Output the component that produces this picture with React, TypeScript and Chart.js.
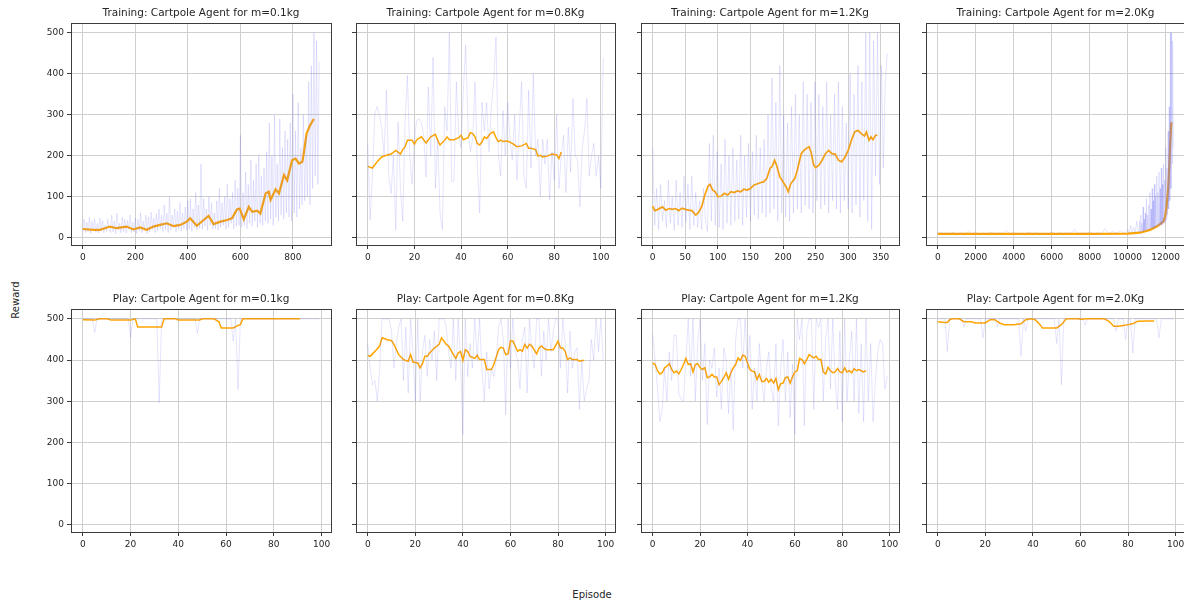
import { useEffect, useRef } from "react";
import { Chart, registerables } from "chart.js";

Chart.register(...registerables);

type Pt = [number, number];

const FONT = "DejaVu Sans";

// ---------- Training, m=0.1kg (raw reward sampled every 5 episodes) ----------
const train01RawStep = 5;
const train01Raw = [
  15, 45, 12, 38, 14, 50, 10, 40, 18, 45, 13, 35, 11, 48, 16, 42, 12, 30, 15, 45, 20,
  12, 55, 14, 40, 10, 60, 18, 35, 12, 50, 15, 45, 11, 42, 20, 55, 12, 38, 14, 48,
  10, 45, 16, 60, 12, 40, 18, 55, 10, 50, 14, 62, 20, 48, 12, 58, 16, 70, 22, 55,
  15, 80, 20, 60, 12, 100, 18, 55, 25, 70, 14, 65, 20, 85, 16, 60, 22, 75, 18, 90,
  20, 95, 15, 70, 25, 110, 18, 80, 22, 180, 20, 95, 28, 70, 18, 100, 30, 85, 20, 60,
  22, 90, 18, 120, 25, 85, 30, 100, 20, 130, 25, 95, 35, 110, 22, 140, 28, 120, 30, 250,
  25, 110, 30, 160, 22, 130, 35, 190, 28, 140, 40, 180, 25, 200, 35, 150, 30, 170, 40, 210,
  35, 280, 45, 200, 30, 300, 50, 180, 40, 290, 55, 220, 45, 260, 60, 240, 50, 280, 40, 350,
  60, 260, 50, 330, 70, 220, 80, 300, 90, 250, 100, 380, 80, 420, 120, 500, 150, 480, 130, 430,
];
const train01Avg: Pt[] = [
  [0, 21], [40, 19], [65, 19], [103, 27], [129, 23], [167, 27], [192, 20], [218, 25],
  [243, 19], [269, 27], [294, 31], [320, 35], [345, 28], [371, 31], [396, 39], [409, 47],
  [434, 29], [460, 43], [479, 53], [498, 33], [524, 39], [549, 43], [568, 47], [587, 69],
  [597, 71], [613, 45], [632, 75], [645, 63], [664, 66], [676, 59], [696, 108], [708, 112],
  [715, 92], [734, 118], [747, 108], [766, 153], [778, 140], [797, 189], [810, 193],
  [823, 181], [836, 185], [842, 209], [852, 254], [865, 274], [880, 290],
];
const train01XTicks = [0, 200, 400, 600, 800];

// ---------- Training, m=0.8Kg (one value per episode) ----------
const train08Raw = [
  230, 43, 150, 300, 320, 300, 270, 200, 360, 150,
  108, 200, 19, 282, 120, 40, 280, 396, 200, 130,
  240, 286, 290, 280, 250, 148, 368, 200, 440, 120,
  240, 60, 20, 320, 260, 500, 136, 140, 380, 250,
  220, 360, 470, 270, 210, 240, 380, 180, 60, 330,
  260, 330, 210, 320, 380, 490, 200, 150, 310, 200,
  330, 240, 190, 300, 140, 270, 380, 150, 120, 360,
  170, 400, 200, 240, 100, 240, 180, 240, 92, 210,
  140, 300, 120, 200, 250, 110, 270, 160, 340, 200,
  190, 75, 220, 260, 340, 150, 200, 230, 150, 200,
  120, 440,
];
const train08Avg: Pt[] = [
  [0, 174], [2, 170], [4, 185], [6, 197], [8, 201], [10, 204], [12, 213], [14, 204],
  [15, 215], [16, 222], [17, 238], [19, 238], [20, 228], [21, 239], [23, 246], [25, 231],
  [27, 246], [29, 252], [30, 238], [31, 226], [33, 238], [34, 246], [35, 239], [37, 239],
  [39, 244], [40, 250], [41, 239], [43, 244], [44, 256], [45, 254], [46, 246], [47, 230],
  [48, 226], [49, 234], [50, 246], [51, 242], [52, 250], [53, 256], [54, 258], [55, 244],
  [56, 234], [57, 238], [58, 235], [60, 236], [62, 230], [64, 222], [66, 224], [68, 230],
  [69, 218], [70, 218], [72, 215], [73, 199], [74, 201], [75, 197], [77, 199], [79, 204],
  [81, 202], [82, 193], [83, 209],
];
const train08XTicks = [0, 20, 40, 60, 80, 100];

// ---------- Training, m=1.2Kg (raw reward sampled every 3 episodes) ----------
const train12RawStep = 3;
const train12Raw = [
  220, 30, 120, 20, 130, 40, 90, 25, 140, 35, 100, 18, 140, 30, 110, 25, 150, 40, 130, 20, 150,
  30, 110, 25, 90, 20, 120, 40, 15, 230, 40, 250, 30, 210, 25, 180, 20, 240, 35, 200, 30,
  220, 40, 190, 45, 250, 30, 200, 50, 230, 40, 210, 55, 250, 45, 220, 60, 240, 50, 300, 60,
  390, 70, 330, 40, 420, 60, 300, 50, 280, 40, 320, 60, 350, 70, 300, 60, 380, 80, 350, 70,
  330, 60, 380, 90, 350, 70, 320, 80, 380, 60, 300, 90, 350, 70, 380, 60, 320, 90, 280, 70,
  400, 60, 350, 80, 420, 50, 380, 90, 500, 40, 500, 20, 480, 150, 500, 130, 420, 170, 380, 450,
];
const train12Avg: Pt[] = [
  [0, 77], [3, 66], [8, 69], [15, 75], [20, 67], [25, 71], [30, 69], [35, 71], [40, 66],
  [45, 72], [50, 69], [55, 67], [60, 66], [66, 55], [70, 61], [75, 75], [80, 104], [85, 126],
  [88, 130], [92, 116], [96, 112], [100, 100], [105, 101], [110, 108], [115, 104], [120, 112],
  [125, 110], [130, 114], [135, 112], [140, 118], [145, 116], [150, 120], [155, 128],
  [160, 131], [165, 134], [170, 136], [175, 144], [180, 169], [183, 173], [187, 189],
  [190, 177], [195, 149], [200, 136], [205, 123], [208, 112], [212, 132], [218, 144],
  [222, 165], [228, 205], [232, 213], [236, 218], [240, 222], [243, 209], [247, 177],
  [250, 171], [255, 177], [260, 189], [265, 205], [270, 213], [275, 205], [280, 204],
  [285, 189], [290, 185], [295, 196], [300, 213], [305, 238], [310, 258], [315, 262],
  [320, 254], [325, 248], [328, 258], [332, 238], [335, 246], [338, 239], [342, 250], [345, 250],
];
const train12XTicks = [0, 50, 100, 150, 200, 250, 300, 350];

// ---------- Training, m=2.0Kg (raw reward at sampled episodes) ----------
const train20Raw: Pt[] = [
  [0, 9], [150, 14], [300, 9], [450, 12], [600, 9], [800, 13], [1000, 9], [1200, 11],
  [1400, 9], [1600, 15], [1800, 9], [2000, 12], [2200, 9], [2400, 11], [2600, 9], [2800, 13],
  [3000, 9], [3200, 12], [3400, 9], [3600, 18], [3800, 9], [4000, 12], [4200, 9], [4400, 11],
  [4600, 9], [4800, 13], [5000, 9], [5200, 12], [5400, 9], [5600, 11], [5800, 9], [6000, 14],
  [6200, 9], [6400, 12], [6600, 9], [6800, 13], [7000, 9], [7200, 20], [7400, 9], [7600, 12],
  [7800, 9], [8000, 14], [8200, 9], [8400, 12], [8600, 9], [8800, 22], [9000, 10], [9200, 15],
  [9400, 10], [9600, 18], [9800, 10], [10000, 20], [10080, 11], [10160, 30], [10240, 12],
  [10320, 25], [10400, 12], [10480, 40], [10560, 14],
  [10600, 14], [10630, 40], [10660, 13], [10690, 55], [10720, 15], [10750, 35], [10780, 16],
  [10810, 75], [10840, 15], [10870, 45], [10900, 18], [10930, 60], [10960, 17], [10990, 95],
  [11020, 20], [11050, 55], [11080, 18], [11110, 80], [11140, 22], [11170, 110], [11200, 20],
  [11230, 70], [11260, 24], [11290, 120], [11320, 22], [11350, 90], [11380, 25], [11410, 130],
  [11440, 24], [11470, 100], [11500, 28], [11530, 150], [11560, 26], [11590, 110], [11620, 30],
  [11650, 160], [11680, 28], [11710, 120], [11740, 32], [11770, 170], [11800, 30], [11830, 130],
  [11860, 35], [11890, 180], [11920, 35], [11950, 140], [11980, 40], [12010, 220], [12040, 45],
  [12070, 170], [12100, 55], [12130, 260], [12160, 70], [12190, 320], [12220, 90], [12250, 500],
  [12280, 120], [12310, 500], [12340, 180], [12370, 480], [12400, 220],
];
const train20Avg: Pt[] = [
  [0, 9], [2000, 9], [4000, 9], [6000, 9], [8000, 9], [10000, 10], [10650, 12], [11180, 19],
  [11530, 27], [11700, 33], [11880, 39], [11970, 51], [12050, 75], [12140, 124], [12200, 181],
  [12240, 230], [12300, 282],
];
const train20XTicks = [0, 2000, 4000, 6000, 8000, 10000, 12000];

// ---------- Play, m=0.1kg ----------
const play01Raw = [
  500, 500, 500, 500, 500, 467, 500, 500, 500, 500,
  500, 500, 500, 500, 500, 500, 500, 500, 500, 500,
  454, 500, 500, 500, 500, 500, 500, 500, 500, 500,
  500, 500, 296, 500, 500, 500, 500, 500, 500, 500,
  500, 500, 500, 500, 500, 500, 500, 500, 465, 500,
  500, 500, 500, 500, 500, 500, 500, 500, 500, 500,
  500, 500, 500, 446, 500, 328, 500, 500, 500, 500,
  500, 500, 500, 500, 500, 500, 500, 500, 500, 500,
  500, 500, 500, 500, 500, 500, 500, 500, 500, 500,
  500, 500, 500, 500, 500, 500, 500, 500, 500, 500,
];
const play01Avg: Pt[] = [
  [0, 498], [5, 497], [7, 500], [10, 500], [12, 497], [20, 497], [22, 500], [23, 480],
  [33, 480], [34, 500], [39, 500], [40, 497], [49, 497], [50, 500], [55, 500], [57, 493],
  [58, 478], [63, 478], [65, 484], [66, 486], [67, 500], [91, 500],
];

// ---------- Play, m=0.8Kg ----------
const play08Raw = [
  440, 380, 340, 350, 300, 380, 500, 500, 500, 500,
  470, 380, 438, 480, 500, 350, 480, 320, 500, 420,
  300, 500, 300, 420, 460, 360, 450, 400, 470, 350,
  500, 500, 500, 480, 420, 380, 500, 350, 500, 400,
  219, 500, 360, 440, 380, 500, 400, 500, 380, 300,
  420, 330, 380, 360, 400, 480, 500, 450, 267, 500,
  380, 500, 420, 400, 330, 450, 480, 320, 500, 420,
  380, 500, 500, 360, 470, 400, 500, 420, 470, 500,
  500, 380, 500, 440, 320, 470, 380, 420, 430, 280,
  400, 300, 330, 350, 450, 400, 500, 420, 500, 400,
];
const play08Avg: Pt[] = [
  [0, 411], [1, 409], [3, 421], [5, 434], [6, 454], [8, 450], [10, 447], [11, 438],
  [13, 413], [15, 401], [17, 397], [18, 413], [19, 395], [21, 393], [22, 381], [23, 391],
  [24, 409], [25, 409], [26, 417], [28, 429], [30, 438], [31, 454], [33, 438], [34, 434],
  [36, 413], [37, 404], [38, 417], [39, 421], [40, 399], [41, 425], [42, 421], [43, 409],
  [45, 404], [46, 412], [47, 401], [49, 401], [50, 377], [52, 377], [53, 389], [55, 425],
  [56, 431], [57, 429], [58, 413], [59, 415], [60, 446], [61, 446], [62, 434], [63, 421],
  [64, 425], [65, 421], [66, 438], [67, 429], [68, 438], [69, 434], [71, 415], [72, 429],
  [73, 434], [74, 429], [75, 425], [76, 425], [78, 425], [80, 446], [81, 429], [82, 429],
  [83, 421], [84, 401], [85, 405], [86, 401], [88, 401], [89, 397], [90, 399], [91, 399],
];

// ---------- Play, m=1.2Kg ----------
const play12Raw = [
  462, 400, 330, 251, 280, 380, 300, 420, 350, 460,
  460, 320, 304, 300, 400, 500, 360, 500, 300, 440,
  500, 350, 440, 243, 400, 380, 430, 310, 380, 280,
  430, 400, 270, 380, 230, 450, 500, 500, 380, 500,
  380, 460, 280, 380, 300, 440, 350, 300, 380, 420,
  330, 300, 440, 240, 380, 450, 300, 420, 260, 390,
  219, 500, 450, 500, 240, 470, 500, 500, 280, 500,
  480, 500, 300, 450, 500, 330, 500, 350, 280, 470,
  250, 500, 300, 400, 470, 300, 500, 270, 440, 250,
  500, 300, 440, 250, 350, 420, 450, 440, 330, 360,
];
const play12Avg: Pt[] = [
  [0, 393], [1, 389], [2, 374], [3, 366], [4, 369], [5, 381], [6, 385], [7, 391], [8, 377],
  [9, 369], [10, 373], [11, 366], [12, 377], [13, 389], [14, 404], [15, 389], [16, 391],
  [17, 371], [18, 389], [19, 391], [20, 381], [21, 377], [22, 381], [23, 357], [24, 359],
  [25, 365], [26, 359], [27, 359], [28, 340], [29, 348], [30, 357], [31, 369], [32, 353],
  [33, 369], [34, 381], [35, 389], [36, 405], [37, 399], [38, 412], [39, 409], [40, 393],
  [41, 377], [42, 373], [43, 371], [44, 353], [45, 365], [46, 348], [47, 348], [48, 355],
  [49, 346], [50, 353], [51, 344], [52, 355], [53, 328], [54, 342], [55, 344], [56, 357],
  [57, 359], [58, 344], [59, 359], [60, 371], [61, 374], [62, 404], [63, 401], [64, 391],
  [65, 401], [66, 413], [67, 409], [68, 405], [69, 409], [70, 401], [71, 401], [72, 371],
  [73, 366], [74, 382], [75, 374], [76, 369], [77, 371], [78, 379], [79, 371], [80, 369],
  [81, 381], [82, 371], [83, 374], [84, 369], [85, 379], [86, 374], [87, 377], [88, 374],
  [89, 371], [90, 374],
];

// ---------- Play, m=2.0Kg ----------
const play20Raw = [
  500, 500, 500, 500, 421, 500, 500, 500, 500, 500,
  500, 480, 500, 500, 500, 500, 500, 500, 500, 454,
  500, 500, 500, 500, 500, 480, 500, 500, 500, 500,
  500, 500, 500, 500, 500, 409, 500, 470, 500, 500,
  500, 500, 500, 500, 500, 500, 500, 500, 500, 500,
  440, 500, 340, 500, 500, 500, 500, 500, 500, 500,
  500, 500, 485, 500, 500, 500, 500, 500, 500, 500,
  500, 500, 500, 500, 500, 470, 500, 500, 500, 450,
  500, 500, 417, 500, 500, 500, 500, 500, 500, 500,
  500, 500, 500, 454, 500, 500, 500, 500, 500, 500,
];
const play20Avg: Pt[] = [
  [0, 493], [3, 491], [4, 491], [5, 498], [6, 500], [9, 500], [11, 493], [14, 493],
  [16, 490], [20, 490], [22, 498], [24, 498], [26, 490], [28, 486], [32, 486], [35, 488],
  [37, 498], [39, 500], [41, 498], [43, 486], [44, 478], [50, 478], [52, 486], [54, 500],
  [59, 500], [60, 499], [63, 500], [65, 500], [70, 500], [72, 494], [74, 482], [76, 482],
  [78, 484], [80, 486], [82, 488], [84, 494], [88, 495], [91, 495],
];

const playXTicks = [0, 20, 40, 60, 80, 100];
const rewardTicks = [0, 100, 200, 300, 400, 500];

// ---------- Figure layout ----------
const Y_MIN = -18;
const Y_MAX = 524;
const COL_EDGES: Pt[] = [[71, 331], [356, 615], [641, 899], [926, 1185]];
const ROW_EDGES: Pt[] = [[23, 245], [309, 532]];
const Y_AXIS_W = 40;
const X_AXIS_H = 22;
const TITLE_H = 16;
const PAD_R = 4;

const RAW_COLOR = "rgba(110,110,245,0.18)";
const AVG_COLOR = "#FFA500";
const GRID_COLOR = "#cfcfcf";
const SPINE_COLOR = "#3c3c3c";
const TEXT_COLOR = "#262626";

const fromSteps = (values: number[], step: number) => values.map((y, i) => ({ x: i * step, y }));
const fromPairs = (pts: Pt[]) => pts.map(([x, y]) => ({ x, y }));

type Panel = {
  title: string;
  raw: { x: number; y: number }[];
  avg: { x: number; y: number }[];
  xTicks: number[];
  avgWidth: number;
};

const panels: Panel[] = [
  { title: "Training: Cartpole Agent for m=0.1kg", raw: fromSteps(train01Raw, train01RawStep), avg: fromPairs(train01Avg), xTicks: train01XTicks, avgWidth: 2.2 },
  { title: "Training: Cartpole Agent for m=0.8Kg", raw: fromSteps(train08Raw, 1), avg: fromPairs(train08Avg), xTicks: train08XTicks, avgWidth: 1.5 },
  { title: "Training: Cartpole Agent for m=1.2Kg", raw: fromSteps(train12Raw, train12RawStep), avg: fromPairs(train12Avg), xTicks: train12XTicks, avgWidth: 1.7 },
  { title: "Training: Cartpole Agent for m=2.0Kg", raw: fromPairs(train20Raw), avg: fromPairs(train20Avg), xTicks: train20XTicks, avgWidth: 2.2 },
  { title: "Play: Cartpole Agent for m=0.1kg", raw: fromSteps(play01Raw, 1), avg: fromPairs(play01Avg), xTicks: playXTicks, avgWidth: 1.5 },
  { title: "Play: Cartpole Agent for m=0.8Kg", raw: fromSteps(play08Raw, 1), avg: fromPairs(play08Avg), xTicks: playXTicks, avgWidth: 1.5 },
  { title: "Play: Cartpole Agent for m=1.2Kg", raw: fromSteps(play12Raw, 1), avg: fromPairs(play12Avg), xTicks: playXTicks, avgWidth: 1.5 },
  { title: "Play: Cartpole Agent for m=2.0Kg", raw: fromSteps(play20Raw, 1), avg: fromPairs(play20Avg), xTicks: playXTicks, avgWidth: 1.5 },
];

// Box around each plot area, drawn on top like axes spines.
const spinePlugin = {
  id: "spines",
  afterDraw(chart: Chart) {
    const { ctx, chartArea: a } = chart;
    ctx.save();
    ctx.strokeStyle = SPINE_COLOR;
    ctx.lineWidth = 1;
    ctx.strokeRect(Math.round(a.left) + 0.5, Math.round(a.top) + 0.5, Math.round(a.right - a.left), Math.round(a.bottom - a.top));
    ctx.restore();
  },
};

function SubPlot({ panel, col, row }: { panel: Panel; col: number; row: number }) {
  const ref = useRef<HTMLCanvasElement>(null);
  const [left, right] = COL_EDGES[col];
  const [top, bottom] = ROW_EDGES[row];
  const width = Y_AXIS_W + (right - left) + PAD_R;
  const height = TITLE_H + (bottom - top) + X_AXIS_H;

  useEffect(() => {
    const lastX = panel.raw[panel.raw.length - 1].x;
    const showY = col === 0;
    const chart = new Chart(ref.current!, {
      type: "line",
      data: {
        datasets: [
          { data: panel.raw, borderColor: RAW_COLOR, borderWidth: 1, pointRadius: 0, tension: 0, fill: false },
          { data: panel.avg, borderColor: AVG_COLOR, borderWidth: panel.avgWidth, pointRadius: 0, tension: 0, fill: false },
        ],
      },
      options: {
        animation: false,
        responsive: false,
        devicePixelRatio: 1,
        layout: { padding: { left: 0, top: 0, right: PAD_R, bottom: 0 } },
        scales: {
          x: {
            type: "linear",
            min: -0.05 * lastX,
            max: 1.05 * lastX,
            afterBuildTicks: (s: any) => {
              s.ticks = panel.xTicks.map((v) => ({ value: v }));
            },
            afterFit: (s: any) => {
              s.height = X_AXIS_H;
            },
            ticks: {
              autoSkip: false,
              maxRotation: 0,
              padding: 3.5,
              color: TEXT_COLOR,
              font: { family: FONT, size: 9 },
              callback: (v: any) => String(v),
            },
            grid: { color: GRID_COLOR, lineWidth: 1, tickColor: SPINE_COLOR, tickLength: 4, tickWidth: 1 },
            border: { display: false },
          },
          y: {
            type: "linear",
            min: Y_MIN,
            max: Y_MAX,
            afterBuildTicks: (s: any) => {
              s.ticks = rewardTicks.map((v) => ({ value: v }));
            },
            afterFit: (s: any) => {
              s.width = Y_AXIS_W;
            },
            ticks: {
              autoSkip: false,
              padding: 3,
              color: TEXT_COLOR,
              font: { family: FONT, size: 9 },
              callback: (v: any) => (showY ? String(v) : ""),
            },
            grid: { color: GRID_COLOR, lineWidth: 1, tickColor: SPINE_COLOR, tickLength: 4, tickWidth: 1 },
            border: { display: false },
          },
        },
        plugins: {
          legend: { display: false },
          tooltip: { enabled: false },
          title: {
            display: true,
            text: panel.title,
            fullSize: false,
            color: TEXT_COLOR,
            font: { family: FONT, size: 10.5, weight: "normal", lineHeight: 1.2 },
            padding: { top: 0, bottom: 3.4 },
          },
        },
      },
      plugins: [spinePlugin],
    } as any);
    return () => chart.destroy();
  }, [panel, col, row]);

  return (
    <canvas
      ref={ref}
      width={width}
      height={height}
      style={{ position: "absolute", left: left - Y_AXIS_W, top: top - TITLE_H, width, height }}
    />
  );
}

export default function App() {
  return (
    <div
      style={{
        position: "fixed",
        left: 0,
        top: 0,
        width: 1184,
        height: 602,
        overflow: "hidden",
        background: "#ffffff",
        fontFamily: FONT,
      }}
    >
      {panels.map((p, i) => (
        <SubPlot key={i} panel={p} col={i % 4} row={Math.floor(i / 4)} />
      ))}
      <div
        style={{
          position: "absolute",
          left: 15,
          top: 300,
          transform: "translate(-50%, -50%) rotate(-90deg)",
          fontSize: 10,
          color: TEXT_COLOR,
          whiteSpace: "nowrap",
        }}
      >
        Reward
      </div>
      <div
        style={{
          position: "absolute",
          left: 592,
          top: 594,
          transform: "translate(-50%, -50%)",
          fontSize: 10,
          color: TEXT_COLOR,
          whiteSpace: "nowrap",
        }}
      >
        Episode
      </div>
    </div>
  );
}
